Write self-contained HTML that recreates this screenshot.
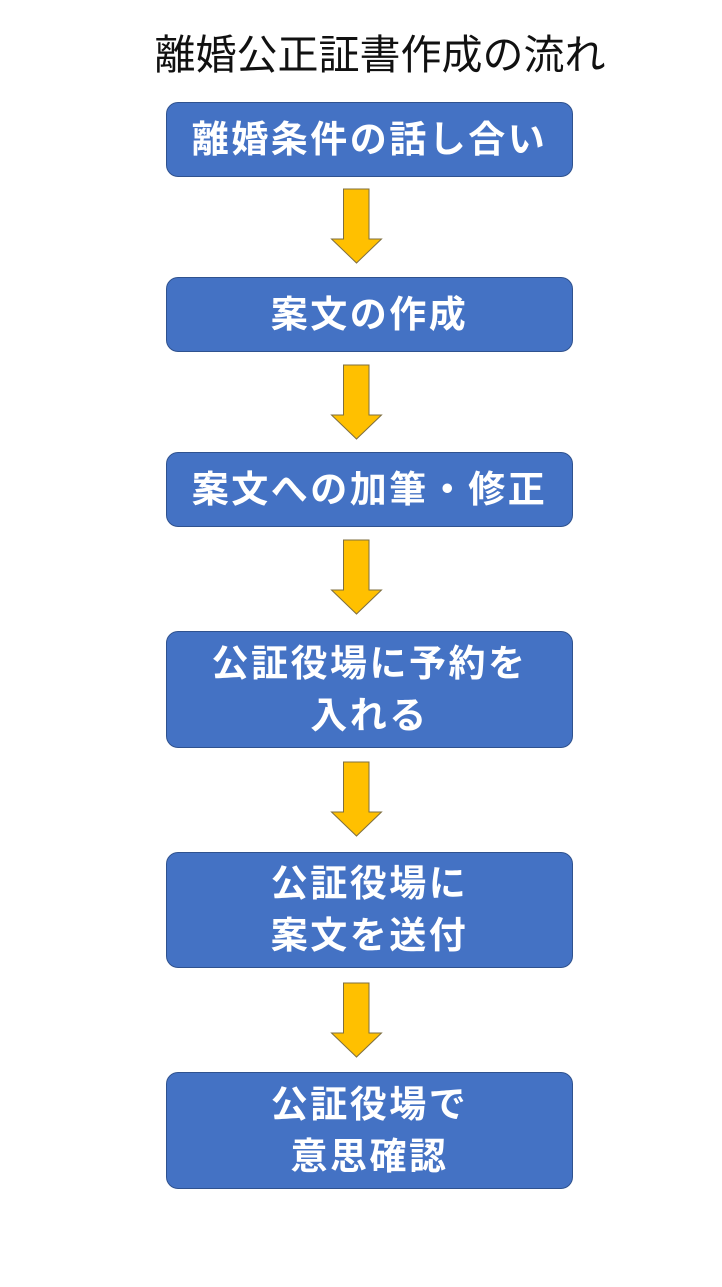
<!DOCTYPE html>
<html><head><meta charset="utf-8"><style>
body{margin:0;width:722px;height:1287px;background:#fff;position:relative;overflow:hidden;font-family:"Liberation Sans","Noto Sans CJK JP",sans-serif}
.t{position:absolute;left:100px;width:560px;top:28px;text-align:center;font-size:41px;line-height:54px;color:#111;padding-left:0}
.b{position:absolute;left:166px;width:405px;background:#4472c4;border:1px solid #2f528f;border-radius:12px;color:#fff;font-weight:bold;font-size:37px;line-height:52px;display:flex;align-items:center;justify-content:center;text-align:center;letter-spacing:2.5px}
svg{position:absolute;left:329px}
</style></head><body>
<div class="t">離婚公正証書作成の流れ</div>
<div class="b" style="top:102px;height:73px">離婚条件の話し合い</div>
<div class="b" style="top:277px;height:73px">案文の作成</div>
<div class="b" style="top:452px;height:73px">案文への加筆・修正</div>
<div class="b" style="top:631px;height:115px">公証役場に予約を<br>入れる</div>
<div class="b" style="top:852px;height:114px">公証役場に<br>案文を送付</div>
<div class="b" style="top:1072px;height:115px">公証役場で<br>意思確認</div>
<svg style="top:188px" width="56" height="78"><polygon points="14.5,1 40,1 40,51 52.5,51 27.5,75 2.5,51 14.5,51" fill="#ffc000" stroke="#7f6f3f" stroke-width="1"/></svg>
<svg style="top:364px" width="56" height="78"><polygon points="14.5,1 40,1 40,51 52.5,51 27.5,75 2.5,51 14.5,51" fill="#ffc000" stroke="#7f6f3f" stroke-width="1"/></svg>
<svg style="top:539px" width="56" height="78"><polygon points="14.5,1 40,1 40,51 52.5,51 27.5,75 2.5,51 14.5,51" fill="#ffc000" stroke="#7f6f3f" stroke-width="1"/></svg>
<svg style="top:761px" width="56" height="78"><polygon points="14.5,1 40,1 40,51 52.5,51 27.5,75 2.5,51 14.5,51" fill="#ffc000" stroke="#7f6f3f" stroke-width="1"/></svg>
<svg style="top:982px" width="56" height="78"><polygon points="14.5,1 40,1 40,51 52.5,51 27.5,75 2.5,51 14.5,51" fill="#ffc000" stroke="#7f6f3f" stroke-width="1"/></svg>
</body></html>
